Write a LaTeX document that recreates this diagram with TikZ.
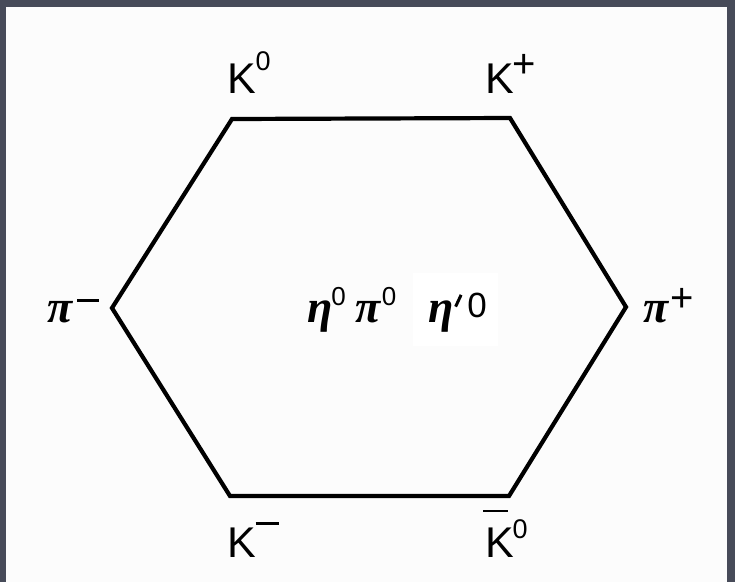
\documentclass[tikz,border=0pt]{standalone}
\usepackage{fontspec}
\setmainfont{Liberation Sans}
\newfontfamily\grk{Liberation Serif}
\definecolor{bggray}{HTML}{474B59}
\definecolor{paper}{HTML}{FCFCFC}
\newcommand\gk[1]{{\grk\bfseries\itshape #1}}
\newcommand\supo[1]{{\fontsize{#1}{#1}\selectfont 0}}
\begin{document}
\begin{tikzpicture}[x=1pt,y=-1pt,
  lbl/.style={anchor=base west,inner sep=0pt,outer sep=0pt,font=\fontsize{43}{43}\selectfont},
  greek/.style={anchor=base west,inner sep=0pt,outer sep=0pt,font=\fontsize{46}{46}\selectfont},
  hexline/.style={line width=4.2pt,line join=miter,black}]
\useasboundingbox (0,0) rectangle (735,582);
\fill[bggray] (0,0) rectangle (735,582);
\fill[paper] (6,7) rectangle (727,582);
\fill[white] (413,273) rectangle (498,346);
% hexagon
\coordinate (tl) at (232,119);
\coordinate (tr) at (510,118);
\coordinate (r)  at (626,307);
\coordinate (br) at (509,496);
\coordinate (bl) at (230,496);
\coordinate (l)  at (112,308);
\draw[hexline] (tl) -- (tr) -- (r) -- (br) -- (bl) -- (l) -- cycle;
% labels
\node[lbl] (k0) at (227,93) {K\raisebox{23pt}{\supo{27}}};
\node[lbl] (kp) at (485,93) {K\hspace{-1pt}\raisebox{16pt}{\fontsize{40}{40}\selectfont +}};
\node[greek] (pim) at (47,322) {\gk{π}\hspace{5pt}\rule[20pt]{22pt}{3pt}};
\node[greek] (pip) at (643,322) {\gk{π}\hspace{2pt}\raisebox{11pt}{\fontsize{40}{40}\selectfont +}};
\node[greek] (etapi) at (307,322) {\gk{η}\hspace{-1pt}\raisebox{17pt}{\supo{26}}\hspace{10pt}\gk{π}\hspace{1pt}\raisebox{17pt}{\supo{26}}};
\node[greek] (etap) at (428,322) {\gk{η}\hspace{1pt}\raisebox{16pt}{\rotatebox{-25}{\rule{3pt}{13pt}}}\hspace{5pt}\raisebox{5pt}{\supo{35}}};
\node[lbl] (km) at (227,557) {K\rule[32pt]{23pt}{3pt}};
\node[lbl] (kb0) at (485,557) {\makebox[0pt][l]{\hspace{-2pt}\rule[45pt]{25pt}{2.5pt}}K\hspace{-1pt}\raisebox{19pt}{\supo{27}}};
\end{tikzpicture}
\end{document}
